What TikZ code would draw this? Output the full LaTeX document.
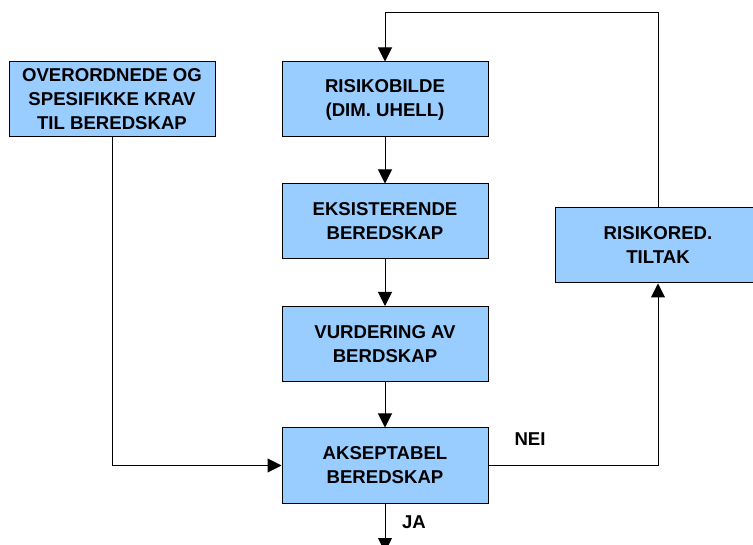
\documentclass[tikz,border=0pt]{standalone}
\usepackage{fontspec}
\setmainfont{Liberation Sans}
\usetikzlibrary{arrows.meta}
\definecolor{boxblue}{HTML}{99CCFF}
\begin{document}
\begin{tikzpicture}[x=1pt,y=-1pt,
  box/.style={draw=black,line width=1pt,fill=boxblue,rectangle,minimum width=206pt,minimum height=75pt,inner sep=0pt,align=center,font=\fontsize{18.6}{24}\selectfont\bfseries},
  lbl/.style={font=\fontsize{18.6}{24}\selectfont\bfseries,inner sep=0pt},
  conn/.style={line width=1pt,-{Triangle[length=14pt,width=14pt]}}]
\useasboundingbox (0,0) rectangle (753,545);
\node[box] (krav) at (112,99.5) {OVERORDNEDE OG\\SPESIFIKKE KRAV\\TIL BEREDSKAP};
\node[box] (risiko) at (385,99.5) {RISIKOBILDE\\(DIM. UHELL)};
\node[box] (eksist) at (385,221.5) {EKSISTERENDE\\BEREDSKAP};
\node[box] (vurd) at (385,344) {VURDERING AV\\BERDSKAP};
\node[box] (aksept) at (385,465.5) {AKSEPTABEL\\BEREDSKAP};
\node[box] (tiltak) at (658,245.5) {RISIKORED.\\TILTAK};
\coordinate (end) at (385,552);
\node[lbl] (nei) at (530,439) {NEI};
\node[lbl] (ja) at (414,522) {JA};
\draw[conn] (risiko) -- (eksist);
\draw[conn] (eksist) -- (vurd);
\draw[conn] (vurd) -- (aksept);
\draw[conn] (aksept.south) -- (end);
\draw[conn] (krav.south) |- (aksept.west);
\draw[conn] (aksept.east) -| (tiltak.south);
\draw[conn] (tiltak.north) -- ++(0,-195) -| (risiko.north);
\end{tikzpicture}
\end{document}
